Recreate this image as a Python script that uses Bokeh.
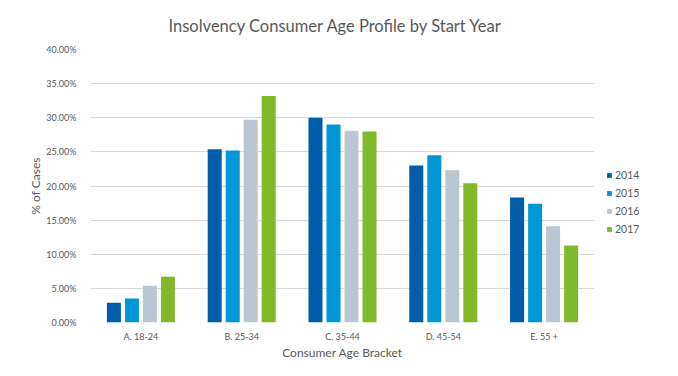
from bokeh.plotting import figure
from bokeh.layouts import row
from bokeh.models import ColumnDataSource, FactorRange, Range1d, NumeralTickFormatter, Legend, LegendItem, FixedTicker
from bokeh.transform import dodge
from bokeh.embed import file_html
from bokeh.resources import INLINE

categories = ["A. 18-24", "B. 25-34", "C. 35-44", "D. 45-54", "E. 55 +"]
years = ["2014", "2015", "2016", "2017"]
v2014 = [0.029, 0.254, 0.300, 0.230, 0.183]
v2015 = [0.035, 0.252, 0.290, 0.245, 0.174]
v2016 = [0.054, 0.297, 0.281, 0.223, 0.141]
v2017 = [0.067, 0.332, 0.280, 0.204, 0.113]
colors = ["#005DAA", "#0097D9", "#BAC7D3", "#82B92A"]
yticks = [0.0, 0.05, 0.10, 0.15, 0.20, 0.25, 0.30, 0.35, 0.40]

FONT = "Lato"
TXT = "#595959"

source = ColumnDataSource(dict(cat=categories, y2014=v2014, y2015=v2015, y2016=v2016, y2017=v2017))

p = figure(x_range=FactorRange(*categories), y_range=Range1d(0, 0.40),
           width=594, height=376, output_backend="svg", toolbar_location=None,
           min_border_left=90, min_border_right=0, min_border_top=46, min_border_bottom=54,
           title="Insolvency Consumer Age Profile by Start Year")
p.outline_line_color = None
p.background_fill_color = "white"
p.border_fill_color = "white"

p.title.align = "left"
p.title.offset = 78
p.title.text_font = FONT
p.title.text_font_style = "normal"
p.title.text_font_size = "16.5px"
p.title.text_color = TXT
p.title.standoff = 27

offsets = [-0.268, -0.089, 0.089, 0.268]
for yr, col, off in zip(years, colors, offsets):
    p.vbar(x=dodge("cat", off, range=p.x_range), top="y" + yr, width=0.139,
           source=source, fill_color=col, line_color=None)

p.xgrid.grid_line_color = None
p.ygrid.grid_line_color = "#D9D9D9"
p.ygrid.grid_line_width = 1

p.yaxis.ticker = FixedTicker(ticks=yticks)
p.yaxis.formatter = NumeralTickFormatter(format="0.00%")
for ax in (p.xaxis[0], p.yaxis[0]):
    ax.axis_line_color = None
    ax.major_tick_line_color = None
    ax.minor_tick_line_color = None
    ax.major_label_text_font = FONT
    ax.major_label_text_font_size = "9px"
    ax.major_label_text_color = TXT
    ax.axis_label_text_font = FONT
    ax.axis_label_text_font_size = "12px"
    ax.axis_label_text_font_style = "normal"
    ax.axis_label_text_color = TXT

p.yaxis.axis_label = "% of Cases"
p.yaxis.major_label_standoff = 8
p.yaxis.axis_label_standoff = 0
p.xaxis.axis_label = "Consumer Age Bracket"
p.xaxis.major_label_standoff = 2
p.xaxis.axis_label_standoff = 0
p.xaxis.group_text_font_size = "0px"

# legend panel on the right (zero-height proxy bars carry the legend swatches)
p2 = figure(width=84, height=376, x_range=Range1d(0, 1), y_range=Range1d(0, 1),
            output_backend="svg", toolbar_location=None,
            min_border_left=0, min_border_right=0, min_border_top=0, min_border_bottom=0)
p2.axis.visible = False
p2.grid.visible = False
p2.outline_line_color = None
p2.background_fill_color = "white"
p2.border_fill_color = "white"
items = []
for yr, col in zip(years, colors):
    r = p2.vbar(x=[0.5], top=[0], bottom=[0], width=0.1, fill_color=col, line_color=None)
    items.append(LegendItem(label=yr, renderers=[r]))
legend = Legend(items=items, location=(12, 87), padding=0, spacing=6, margin=0,
                glyph_width=6, glyph_height=6, label_standoff=3,
                label_text_font=FONT, label_text_font_size="10.5px", label_text_color=TXT,
                border_line_color=None, background_fill_alpha=0, label_height=12)
p2.add_layout(legend, "center")

layout = row(p, p2, spacing=0)
open("out.html", "w").write(file_html(layout, INLINE))
